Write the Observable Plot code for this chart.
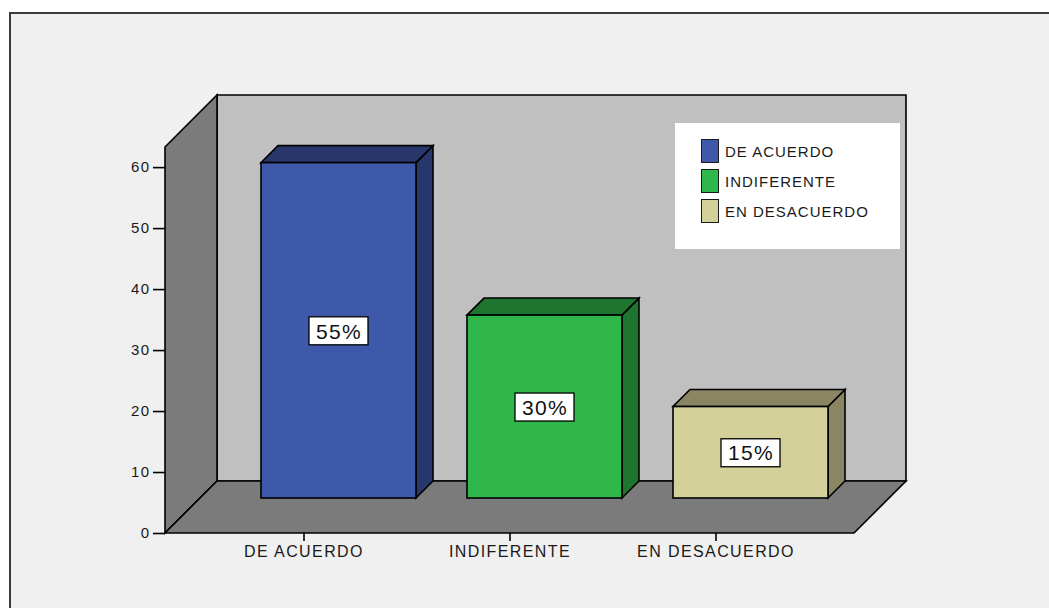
<!DOCTYPE html>
<html>
<head>
<meta charset="utf-8">
<script src="https://cdn.jsdelivr.net/npm/d3@7"></script>
<script src="https://cdn.jsdelivr.net/npm/@observablehq/plot@0.6"></script>
<style>
  html, body { margin: 0; padding: 0; background: #ffffff; width: 1049px; height: 608px; overflow: hidden; }
  #frame { position: absolute; left: 9px; top: 12px; right: 0; bottom: 0; background: #f0f0f0; border-left: 2px solid #3c3c3c; border-top: 2px solid #3c3c3c; }
  #chart { position: absolute; left: 0; top: 0; }
  #chart svg text { letter-spacing: 1.4px; }
  #legend { position: absolute; left: 675px; top: 123px; width: 225px; height: 126px; background: #ffffff; font-family: "Liberation Sans", Arial, sans-serif; font-size: 15px; color: #1a1a1a; letter-spacing: 1px; }
  #legend .item { position: absolute; left: 26px; height: 24px; display: flex; align-items: center; }
  #legend .sw { width: 16px; height: 22px; border: 1.5px solid #1a1a1a; margin-right: 6px; box-sizing: content-box; }
</style>
</head>
<body>
<div id="frame"></div>
<div id="chart"></div>
<div id="legend"></div>
<script>
// ---- data ----
const categorias = ["DE ACUERDO", "INDIFERENTE", "EN DESACUERDO"];
const valores = [55, 30, 15];
const etiquetas = ["55%", "30%", "15%"];
const yTicks = [0, 10, 20, 30, 40, 50, 60];

// ---- styles ----
const colorFrente = ["#3e58aa", "#2fb74b", "#d4d09a"];
const colorLado = ["#27376c", "#1e7530", "#8a8563"];

const datos = categorias.map((c, i) => ({categoria: c, valor: valores[i], etiqueta: etiquetas[i], i}));

const D = 52;       // wall depth (px)
const DF = 35;      // bar front depth (px)
const W = 1049, H = 608;

function scaleFn(scales, key) { return scales[key]; }
function bandwidthOf(scales) {
  const x = scales.x;
  if (x && typeof x.bandwidth === "function") return x.bandwidth();
  if (scales.scales && scales.scales.x) return scales.scales.x.bandwidth;
  return 0;
}
const pts = (arr) => arr.map(p => p.join(",")).join(" ");

// Walls + floor (drawn from the plot's scales/dimensions)
function walls(index, scales, values, dim) {
  const y = scales.y;
  const x0 = dim.marginLeft, x1 = dim.width - dim.marginRight;
  const y0 = y(0), yt = y(y.domain()[1]);
  const g = d3.create("svg:g").attr("stroke", "#000").attr("stroke-width", 1.6).attr("stroke-linejoin", "miter");
  // back wall
  g.append("polygon").attr("fill", "#c0c0c0")
    .attr("points", pts([[x0 + D, yt - D], [x1 + D, yt - D], [x1 + D, y0 - D], [x0 + D, y0 - D]]));
  // left wall
  g.append("polygon").attr("fill", "#7b7b7b")
    .attr("points", pts([[x0, y0], [x0, yt], [x0 + D, yt - D], [x0 + D, y0 - D]]));
  // floor
  g.append("polygon").attr("fill", "#7b7b7b")
    .attr("points", pts([[x0, y0], [x1, y0], [x1 + D, y0 - D], [x0 + D, y0 - D]]));
  return g.node();
}

// 3D bars
function bars3d(index, scales, values, dim) {
  const x = scales.x, y = scales.y;
  const bw = bandwidthOf(scales);
  const g = d3.create("svg:g").attr("stroke", "#000").attr("stroke-width", 1.6).attr("stroke-linejoin", "miter");
  datos.forEach(d => {
    const xl = x(d.categoria), xr = xl + bw;
    const yb = y(0), yt = y(d.valor);
    // side
    g.append("polygon").attr("fill", colorLado[d.i])
      .attr("points", pts([[xr + DF, yb - DF], [xr + D, yb - D], [xr + D, yt - D], [xr + DF, yt - DF]]));
    // top
    g.append("polygon").attr("fill", colorLado[d.i])
      .attr("points", pts([[xl + DF, yt - DF], [xr + DF, yt - DF], [xr + D, yt - D], [xl + D, yt - D]]));
    // front
    g.append("rect").attr("fill", colorFrente[d.i])
      .attr("x", xl + DF).attr("y", yt - DF).attr("width", bw).attr("height", yb - yt);
    // label box
    const cx = xl + bw / 2 + DF, cy = (yt + yb) / 2 - DF;
    g.append("rect").attr("fill", "#fff").attr("stroke-width", 1.3)
      .attr("x", cx - 29.5).attr("y", cy - 13.5).attr("width", 59).attr("height", 28);
  });
  return g.node();
}

const chart = Plot.plot({
  width: W,
  height: H,
  marginLeft: 165,
  marginRight: 195,
  marginTop: 147,
  marginBottom: 75,
  style: {background: "transparent", fontFamily: "'Liberation Sans', Arial, sans-serif", color: "#1a1a1a", overflow: "visible"},
  x: {type: "band", domain: categorias, paddingInner: 0.25, paddingOuter: 0.29},
  y: {domain: [0, 63.3]},
  marks: [
    walls,
    bars3d,
    Plot.text(datos, {x: "categoria", y: d => d.valor / 2, text: "etiqueta", dx: DF, dy: -DF + 1, fontSize: 21, fill: "#111"}),
    Plot.axisY({ticks: yTicks, tickSize: 12, tickPadding: 3, fontSize: 15, label: null, stroke: "#000", strokeWidth: 1.6}),
    Plot.axisX({tickSize: 8, tickPadding: 4, fontSize: 16, label: null, stroke: "#000", strokeWidth: 1.6})
  ]
});
document.getElementById("chart").appendChild(chart);

// legend
const leg = document.getElementById("legend");
categorias.forEach((c, i) => {
  const it = document.createElement("div");
  it.className = "item";
  it.style.top = (16 + i * 30) + "px";
  const sw = document.createElement("div");
  sw.className = "sw";
  sw.style.background = colorFrente[i];
  const t = document.createElement("span");
  t.textContent = c;
  it.appendChild(sw); it.appendChild(t);
  leg.appendChild(it);
});
</script>
</body>
</html>
